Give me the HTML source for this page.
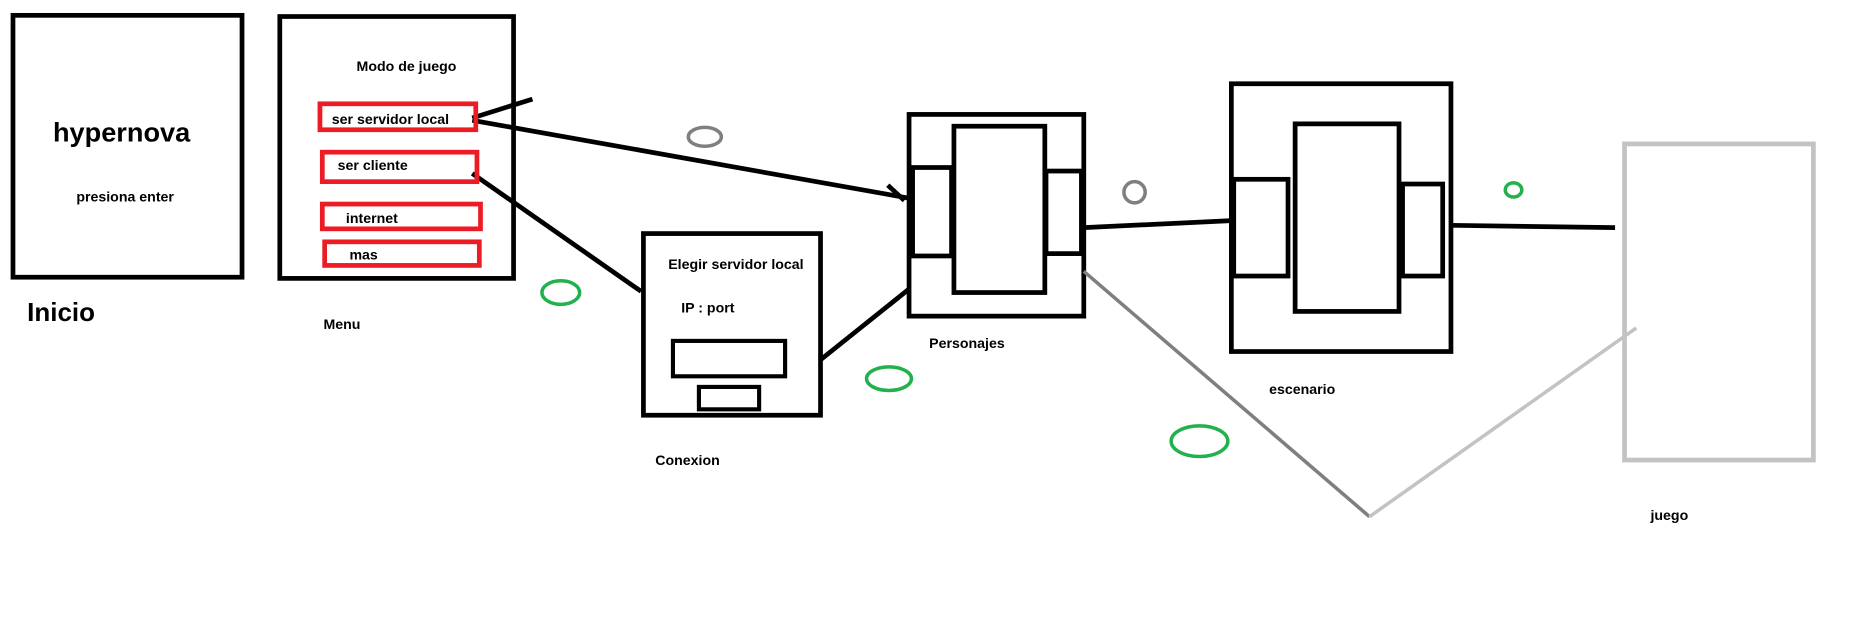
<!DOCTYPE html>
<html><head><meta charset="utf-8"><style>
html,body{margin:0;padding:0;background:#fff;overflow:hidden}
svg{display:block}
text{font-family:"Liberation Sans",sans-serif;font-weight:bold;fill:#000}
</style></head><body>
<svg width="1850" height="637" viewBox="0 0 1567 540" preserveAspectRatio="none" xmlns="http://www.w3.org/2000/svg">
<g fill="none" stroke="#000" stroke-width="4">
<rect x="11" y="13" width="194" height="222"/>
<rect x="237" y="14" width="198" height="222"/>
<rect x="545" y="198" width="150" height="154"/>
<rect x="570" y="289" width="95" height="30" stroke-width="3.5"/>
<rect x="592" y="328" width="51" height="19" stroke-width="3.5"/>
<rect x="770" y="97" width="148" height="171"/>
<rect x="808" y="107" width="77" height="141"/>
<rect x="773" y="142" width="33" height="75"/>
<rect x="886" y="145" width="30" height="70"/>
<rect x="1043" y="71" width="186" height="227"/>
<rect x="1097" y="105" width="88" height="159"/>
<rect x="1045" y="152" width="46" height="82"/>
<rect x="1188" y="156" width="34" height="78"/>
<line x1="400" y1="100" x2="451" y2="84"/>
<line x1="400" y1="102" x2="770" y2="168"/>
<line x1="752" y1="157" x2="766" y2="170"/>
<line x1="400" y1="147" x2="543" y2="247"/>
<line x1="695" y1="305" x2="770" y2="245"/>
<line x1="918" y1="193" x2="1043" y2="187"/>
<line x1="1229" y1="191" x2="1368" y2="193"/>
</g>
<g fill="none" stroke="#ed1c24" stroke-width="4">
<rect x="271" y="88" width="132" height="22"/>
<rect x="273" y="129" width="131" height="25"/>
<rect x="273" y="173" width="134" height="21"/>
<rect x="275" y="205" width="131" height="20"/>
</g>
<rect x="1376" y="122" width="160" height="268" fill="none" stroke="#c3c3c3" stroke-width="4"/>
<line x1="918" y1="230" x2="1160" y2="438" stroke="#7f7f7f" stroke-width="3"/>
<line x1="1160" y1="438" x2="1386" y2="278" stroke="#c3c3c3" stroke-width="3"/>
<g fill="none" stroke-width="3">
<ellipse cx="597" cy="116" rx="14" ry="8" stroke="#7f7f7f"/>
<ellipse cx="961" cy="163" rx="9" ry="9" stroke="#7f7f7f"/>
<ellipse cx="475" cy="248" rx="16" ry="10" stroke="#22b14c"/>
<ellipse cx="753" cy="321" rx="19" ry="10" stroke="#22b14c"/>
<ellipse cx="1016" cy="374" rx="24" ry="13" stroke="#22b14c"/>
<ellipse cx="1282" cy="161" rx="7" ry="6" stroke="#22b14c"/>
</g>
<text x="103" y="120" font-size="23" text-anchor="middle">hypernova</text>
<text x="106" y="171" font-size="12" text-anchor="middle">presiona enter</text>
<text x="23" y="272" font-size="22">Inicio</text>
<text x="302" y="60" font-size="12">Modo de juego</text>
<text x="281" y="105" font-size="12">ser servidor local</text>
<text x="286" y="144" font-size="12">ser cliente</text>
<text x="293" y="189" font-size="12">internet</text>
<text x="296" y="220" font-size="12">mas</text>
<text x="274" y="279" font-size="12">Menu</text>
<text x="566" y="228" font-size="12">Elegir servidor local</text>
<text x="577" y="265" font-size="12">IP : port</text>
<text x="555" y="394" font-size="12">Conexion</text>
<text x="787" y="295" font-size="12">Personajes</text>
<text x="1075" y="334" font-size="12">escenario</text>
<text x="1398" y="441" font-size="12">juego</text>
</svg>
</body></html>
